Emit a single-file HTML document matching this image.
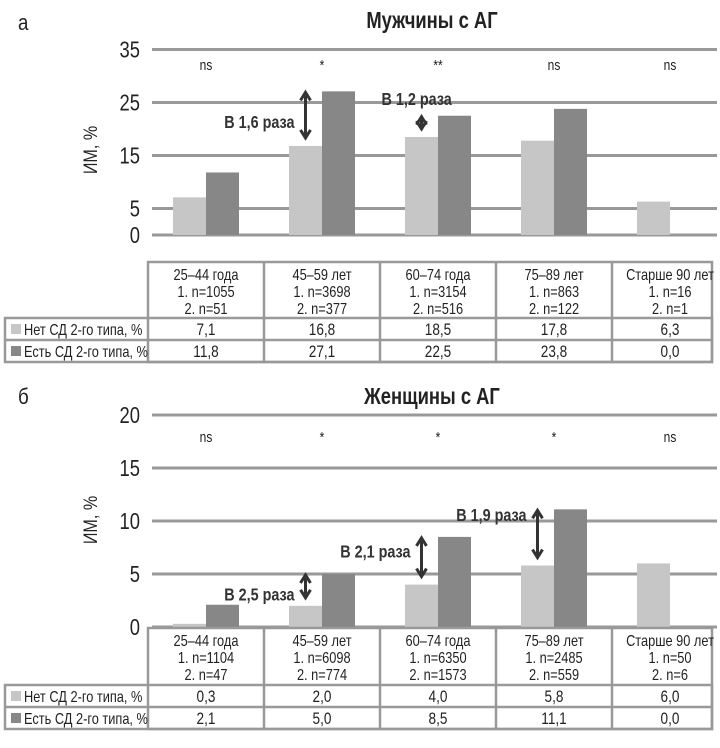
<!DOCTYPE html>
<html><head><meta charset="utf-8"><style>
body{margin:0;background:#fff;}
svg{display:block;font-family:"Liberation Sans",sans-serif;}
</style></head><body>
<svg id="c" width="720" height="748" viewBox="0 0 720 748"></svg>
<script>
const categories=["25–44 года","45–59 лет","60–74 года","75–89 лет","Старше 90 лет"];
const menN1=["1. n=1055","1. n=3698","1. n=3154","1. n=863","1. n=16"];
const menN2=["2. n=51","2. n=377","2. n=516","2. n=122","2. n=1"];
const menNo=[7.1,16.8,18.5,17.8,6.3];
const menYes=[11.8,27.1,22.5,23.8,0.0];
const menSig=["ns","*","**","ns","ns"];
const menTicks=[0,5,15,25,35];
const womN1=["1. n=1104","1. n=6098","1. n=6350","1. n=2485","1. n=50"];
const womN2=["2. n=47","2. n=774","2. n=1573","2. n=559","2. n=6"];
const womNo=[0.3,2.0,4.0,5.8,6.0];
const womYes=[2.1,5.0,8.5,11.1,0.0];
const womSig=["ns","*","*","*","ns"];
const womTicks=[0,5,10,15,20];
const menAnn=[{cat:1,text:"В 1,6 раза",mode:"side",ty:0.65},{cat:2,text:"В 1,2 раза",mode:"top"}];
const womAnn=[{cat:1,text:"В 2,5 раза",mode:"side",ty:0.85},{cat:2,text:"В 2,1 раза",mode:"side",ty:0.35},{cat:3,text:"В 1,9 раза",mode:"side",ty:0.1}];

const svg=document.getElementById('c');
const NS="http://www.w3.org/2000/svg";
function el(tag,attrs,parent,text){const e=document.createElementNS(NS,tag);for(const k in attrs)e.setAttribute(k,attrs[k]);if(text!==undefined)e.textContent=text;(parent||svg).appendChild(e);return e;}
function txt(x,y,s,attrs,parent,sx){attrs=Object.assign({x:0,y:0,transform:`translate(${x},${y}) scale(${sx||0.8},1)`},attrs);return el('text',attrs,parent,s);}
const colL=148,colW=116,tableR=712;
function xCenter(i){return colL+colW*i+colW/2;}

function panel(o){
  const g=el('g',{});
  
  
  const t=txt(18,o.labY,o.letter,{'font-size':22,fill:'#222'},g,0.85);
  
  const ti=txt(432,o.titleY,o.title,{'font-size':23,'font-weight':'bold','text-anchor':'middle',fill:'#222'},g,0.8);
  
  const yl=el('text',{x:0,y:0,'font-size':19,'text-anchor':'middle',fill:'#222',transform:`translate(97,${o.ylabY}) rotate(-90) scale(0.85,1)`},g,"ИМ, %");
  
  o.ticks.forEach(tv=>{
    const yy=o.y0-tv*o.ppu;
    const gl=el('line',{x1:152,x2:717,y1:yy,y2:yy,stroke:'#999','stroke-width':3},g);
    
    const tl=txt(140,yy+8,String(tv),{'font-size':23,'text-anchor':'end',fill:'#222'},g,0.8);
    
  });
  const bw=33;
  categories.forEach((c,i)=>{
    const cx=xCenter(i);
    const h1=o.no[i]*o.ppu,h2=o.yes[i]*o.ppu;
    const b1=el('rect',{x:cx-bw,y:o.y0-h1,width:bw,height:h1,fill:'#c6c6c6'},g);
    
    if(h2>0){const b2=el('rect',{x:cx,y:o.y0-h2,width:bw,height:h2,fill:'#878787'},g);
    }
    const s=txt(cx,o.sigY,o.sig[i],{'font-size':15,'text-anchor':'middle',fill:'#222'},g,0.8);
    
  });
  o.ann.forEach(a=>{
    const cx=xCenter(a.cat);
    const top=o.y0-o.yes[a.cat]*o.ppu+1, bot=o.y0-o.no[a.cat]*o.ppu-8;
    const ax=cx-bw/2;
    const ag=el('g',{},g);
    el('line',{x1:ax,x2:ax,y1:top+3,y2:bot-3,stroke:'#333','stroke-width':3},ag);
    el('path',{d:`M${ax-5},${top+8} L${ax},${top} L${ax+5},${top+8}`,fill:'none',stroke:'#333','stroke-width':3},ag);
    el('path',{d:`M${ax-5},${bot-8} L${ax},${bot} L${ax+5},${bot-8}`,fill:'none',stroke:'#333','stroke-width':3},ag);
    let at;
    if(a.mode==='top'){
      at=txt(ax-40,top-12,a.text,{'font-size':18,'font-weight':'bold',fill:'#333'},g,0.8);
    } else {
      const ty=top+(bot-top)*a.ty+6;
      at=txt(ax-11,ty,a.text,{'font-size':18,'font-weight':'bold','text-anchor':'end',fill:'#333'},g,0.8);
    }
    
  });
  const T=o.tTop,H=o.hdrH,R=22;
  const tg=el('g',{},g);
  const st={stroke:'#999','stroke-width':2.5,fill:'none'};
  el('rect',Object.assign({x:colL,y:T,width:tableR-colL,height:H+2*R},st),tg);
  el('rect',Object.assign({x:5,y:T+H,width:tableR-5,height:2*R},st),tg);
  el('line',Object.assign({x1:5,x2:tableR,y1:T+H+R,y2:T+H+R},st),tg);
  for(let i=1;i<5;i++){el('line',Object.assign({x1:colL+colW*i,x2:colL+colW*i,y1:T,y2:T+H+2*R},st),tg);}
  categories.forEach((c,i)=>{
    const cx=colL+colW*i+colW/2;
    [c,o.n1[i],o.n2[i]].forEach((s,k)=>{
      const tt=txt(cx,T+18+k*17,s,{'font-size':16,'text-anchor':'middle',fill:'#222'},tg,0.8);
      
    });
    const v1=txt(cx,T+H+17,o.no[i].toFixed(1).replace('.',','),{'font-size':17,'text-anchor':'middle',fill:'#222'},tg,0.8);
    
    const v2=txt(cx,T+H+R+17,o.yes[i].toFixed(1).replace('.',','),{'font-size':17,'text-anchor':'middle',fill:'#222'},tg,0.8);
    
  });
  const lg1=el('rect',{x:11,y:T+H+6,width:10,height:10,fill:'#c6c6c6'},tg);
  
  const lt1=txt(24,T+H+17,"Нет СД 2-го типа, %",{'font-size':16,fill:'#222'},tg,0.8);
  
  const lg2=el('rect',{x:11,y:T+H+R+6,width:10,height:10,fill:'#878787'},tg);
  
  const lt2=txt(24,T+H+R+17,"Есть СД 2-го типа, %",{'font-size':16,fill:'#222'},tg,0.8);
  
}
panel({name:'men-panel',letter:'а',labY:30,title:'Мужчины с АГ',titleY:28,ylabY:150,
  y0:235,ppu:5.3,ticks:menTicks,
  no:menNo,yes:menYes,sig:menSig,sigY:70,ann:menAnn,n1:menN1,n2:menN2,tTop:262,hdrH:56});
panel({name:'women-panel',letter:'б',labY:404,title:'Женщины с АГ',titleY:404,ylabY:520,
  y0:627,ppu:10.6,ticks:womTicks,
  no:womNo,yes:womYes,sig:womSig,sigY:442,ann:womAnn,n1:womN1,n2:womN2,tTop:628,hdrH:57});
</script>
</body></html>
